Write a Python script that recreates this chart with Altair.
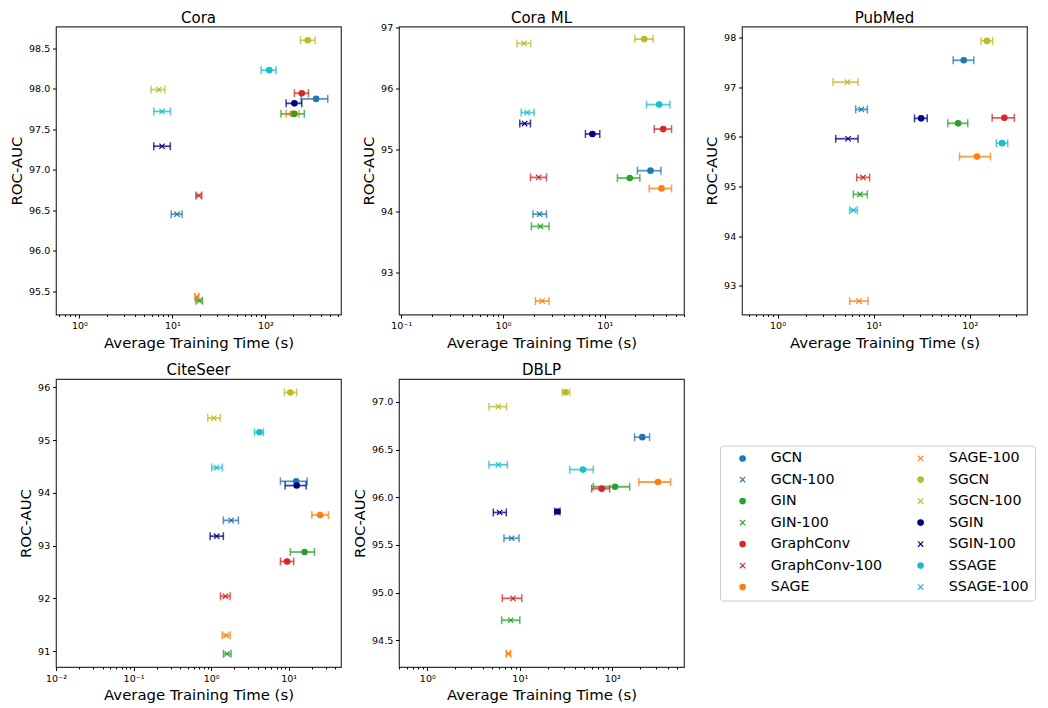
import math
import altair as alt
import pandas as pd

# ---------------- data ----------------
MODELS = ["GCN", "GCN-100", "SAGE", "SAGE-100", "GIN", "GIN-100", "GraphConv",
          "GraphConv-100", "SGCN", "SGCN-100", "SGIN", "SGIN-100", "SSAGE", "SSAGE-100"]

# legend order (legend fills column by column)
LEGEND_ORDER = ["GCN", "GCN-100", "GIN", "GIN-100", "GraphConv", "GraphConv-100", "SAGE",
                "SAGE-100", "SGCN", "SGCN-100", "SGIN", "SGIN-100", "SSAGE", "SSAGE-100"]

BASE_COLORS = {"GCN": "#1f77b4", "GIN": "#2ca02c", "GraphConv": "#d62728", "SAGE": "#ff7f0e",
               "SGCN": "#bcbd22", "SGIN": "#000080", "SSAGE": "#17becf"}

# Cora
CORA_T = [351, 11.2, 195, 18.3, 205, 19.5, 246, 19.2, 285, 7.13, 205, 7.74, 110, 7.74]
CORA_LO = [242, 9.7, 167, 17.5, 147, 17.9, 205, 17.9, 238, 5.9, 167, 6.3, 90, 6.3]
CORA_HI = [468, 12.7, 230, 19.2, 262, 21.1, 290, 20.7, 342, 8.3, 246, 9.5, 130, 9.5]
CORA_AUC = [97.875, 96.45, 97.69, 95.43, 97.69, 95.38, 97.945, 96.68, 98.60, 97.99, 97.82, 97.29, 98.23, 97.72]

# Cora ML
CORAML_T = [28.1, 2.29, 36.1, 2.42, 17.6, 2.33, 37.5, 2.24, 24.4, 1.61, 7.56, 1.63, 34.2, 1.73]
CORAML_LO = [20.9, 1.97, 27.3, 2.08, 13.3, 1.90, 30.6, 1.86, 19.7, 1.37, 6.45, 1.46, 25.7, 1.51]
CORAML_HI = [35.6, 2.67, 45.3, 2.83, 22.1, 2.83, 45.3, 2.67, 29.9, 1.87, 8.93, 1.86, 43.6, 2.02]
CORAML_AUC = [94.66, 93.95, 94.37, 92.53, 94.54, 93.75, 95.34, 94.55, 96.81, 96.74, 95.26, 95.43, 95.74, 95.61]

# PubMed
PUBMED_T = [86.6, 7.45, 119, 7.04, 75.7, 7.21, 229, 7.75, 151, 5.33, 31.2, 5.42, 217, 6.15]
PUBMED_LO = [67.2, 6.5, 78.2, 5.63, 59.1, 6.15, 171, 6.66, 131, 3.78, 26.6, 4.03, 189, 5.63]
PUBMED_HI = [110, 8.6, 164, 8.73, 95.3, 8.6, 291, 9.08, 173, 6.88, 36.1, 6.88, 248, 6.77]
PUBMED_AUC = [97.54, 96.55, 95.60, 92.69, 96.27, 94.84, 96.38, 95.18, 97.93, 97.10, 96.37, 95.96, 95.87, 94.52]

# CiteSeer
CITESEER_T = [12.5, 1.81, 25.4, 1.56, 16.0, 1.61, 9.55, 1.53, 10.5, 1.08, 12.7, 1.18, 4.2, 1.18]
CITESEER_LO = [7.83, 1.44, 19.9, 1.39, 10.5, 1.44, 7.83, 1.32, 8.82, 0.906, 9.0, 0.97, 3.62, 1.02]
CITESEER_HI = [17.3, 2.25, 32.6, 1.76, 21.5, 1.81, 11.6, 1.76, 12.7, 1.31, 16.8, 1.44, 4.73, 1.39]
CITESEER_AUC = [94.22, 93.48, 93.58, 91.30, 92.88, 90.95, 92.70, 92.04, 95.905, 95.42, 94.14, 93.18, 95.15, 94.48]

# DBLP
DBLP_T = [211, 8.16, 312, 7.51, 107, 7.96, 76.7, 8.44, 31.3, 5.86, 25.5, 6.05, 48.2, 5.86]
DBLP_LO = [174, 6.74, 194, 7.14, 62.3, 6.36, 59.8, 6.47, 28.8, 4.64, 23.8, 5.17, 34.6, 4.64]
DBLP_HI = [253, 9.8, 427, 7.96, 154, 10.0, 93.6, 10.5, 34.6, 7.2, 27.2, 7.14, 62.3, 7.33]
DBLP_AUC = [96.63, 95.57, 96.16, 94.36, 96.11, 94.71, 96.09, 94.94, 97.10, 96.95, 95.85, 95.84, 96.29, 96.34]

# ---------------- styling helpers ----------------
FONT = "DejaVu Sans"
PW, PH = 285, 288


def x_marker_path(arm=1.15, half=0.17):
    pts = [(half, arm), (half, half), (arm, half), (arm, -half), (half, -half), (half, -arm),
           (-half, -arm), (-half, -half), (-arm, -half), (-arm, half), (-half, half), (-half, arm)]
    rot = [((x - y) / math.sqrt(2), (x + y) / math.sqrt(2)) for x, y in pts]
    return "M" + "L".join(f"{x:.3f},{y:.3f}" for x, y in rot) + "Z"


X_PATH = x_marker_path()


def base_of(m):
    return m.replace("-100", "")


COLOR_RANGE = [BASE_COLORS[base_of(m)] for m in LEGEND_ORDER]
SHAPE_RANGE = [X_PATH if m.endswith("-100") else "circle" for m in LEGEND_ORDER]
cscale = alt.Scale(domain=LEGEND_ORDER, range=COLOR_RANGE)
sscale = alt.Scale(domain=LEGEND_ORDER, range=SHAPE_RANGE)

E = "round(log(datum.value)/LN10)"
IS_MAJOR = f"abs(log(datum.value)/LN10 - {E}) < 0.001"
LABEL_EXPR = (f"{IS_MAJOR} ? ({E} == -2 ? '10⁻²' : {E} == -1 ? '10⁻¹' : {E} == 0 ? '10⁰' : "
              f"{E} == 1 ? '10¹' : {E} == 2 ? '10²' : '10³') : ''")

LEG = alt.Legend(title=None, orient="none", legendX=664, legendY=419, columns=2,
                 columnPadding=21, rowPadding=6.5, labelFontSize=14.2, labelFont=FONT,
                 labelColor="black", labelOffset=21, symbolOffset=10, padding=5.5,
                 strokeColor="#cccccc", fillColor="white", cornerRadius=3,
                 symbolSize=44, symbolStrokeWidth=0, symbolOpacity=1)


def panel(name, t, lo, hi, auc, xdom, ydom, yvals, yfmt):
    df = pd.DataFrame({"model": MODELS, "t": t, "lo": lo, "hi": hi, "auc": auc})
    df["hex"] = [BASE_COLORS[base_of(m)] for m in MODELS]
    xvals = []
    for n in range(-3, 4):
        for k in range(1, 10):
            v = k * 10.0 ** n
            if xdom[0] <= v <= xdom[1]:
                xvals.append(round(v, 6))
    xs = alt.Scale(type="log", domain=xdom, nice=False)
    ys = alt.Scale(domain=ydom, nice=False, zero=False)
    xaxis = alt.Axis(title="Average Training Time (s)", values=xvals, labelExpr=LABEL_EXPR,
                     tickSize={"condition": {"test": IS_MAJOR, "value": 3.5}, "value": 2},
                     labelPadding=2.8, titlePadding=5, labelFlush=False, labelOverlap=False)
    yaxis = alt.Axis(title="ROC-AUC", values=yvals, format=yfmt, tickSize=3.5,
                     labelPadding=2.8, titlePadding=4, labelFlush=False)
    base = alt.Chart(df)
    col = alt.Color("hex:N", scale=None)
    X = lambda f: alt.X(f, scale=xs, axis=xaxis)
    Y = alt.Y("auc:Q", scale=ys, axis=yaxis)
    rule = base.mark_rule(strokeWidth=1.8, opacity=0.75).encode(
        x=X("lo:Q"), x2="hi:Q", y=Y, color=col)
    cap_lo = base.mark_tick(orient="vertical", size=8, thickness=1.5, opacity=0.75).encode(
        x=X("lo:Q"), y=Y, color=col)
    cap_hi = base.mark_tick(orient="vertical", size=8, thickness=1.5, opacity=0.75).encode(
        x=X("hi:Q"), y=Y, color=col)
    pts = base.mark_point(filled=True, size=44, opacity=1).encode(
        x=X("t:Q"), y=Y,
        color=alt.Color("model:N", scale=cscale, legend=LEG),
        shape=alt.Shape("model:N", scale=sscale, legend=LEG))
    ttl = alt.Chart(pd.DataFrame({"name": [name]})).mark_text(
        font=FONT, fontSize=15, color="black", align="center", baseline="middle"
    ).encode(text="name:N", x=alt.value(PW / 2), y=alt.value(-9))
    return alt.layer(rule, cap_lo, cap_hi, pts, ttl).properties(width=PW, height=PH)


cora = panel("Cora", CORA_T, CORA_LO, CORA_HI, CORA_AUC, [0.56, 650], [95.21, 98.77],
             [95.5, 96.0, 96.5, 97.0, 97.5, 98.0, 98.5], ".1f")
coraml = panel("Cora ML", CORAML_T, CORAML_LO, CORAML_HI, CORAML_AUC, [0.095, 60], [92.31, 97.016],
               [93, 94, 95, 96, 97], ".0f")
pubmed = panel("PubMed", PUBMED_T, PUBMED_LO, PUBMED_HI, PUBMED_AUC, [0.427, 394], [92.42, 98.22],
               [93, 94, 95, 96, 97, 98], ".0f")
citeseer = panel("CiteSeer", CITESEER_T, CITESEER_LO, CITESEER_HI, CITESEER_AUC, [0.01, 47.3],
                 [90.70, 96.16], [91, 92, 93, 94, 95, 96], ".0f")
dblp = panel("DBLP", DBLP_T, DBLP_LO, DBLP_HI, DBLP_AUC, [0.494, 596], [94.22, 97.24],
             [94.5, 95.0, 95.5, 96.0, 96.5, 97.0], ".1f")

chart = alt.concat(cora, coraml, pubmed, citeseer, dblp, columns=3,
                   spacing=alt.RowColnumber(row=64.5, column=58)).properties(
    bounds="flush", padding={"left": 0, "top": 1.5, "right": 0, "bottom": 0}
).configure(font=FONT).configure_view(
    stroke="#333333", strokeWidth=1.2
).configure_axis(
    grid=False, domain=False, tickColor="black", tickWidth=1, labelColor="black",
    titleColor="black", labelFontSize=9.5, titleFontSize=14.9, titleFontWeight="normal",
    labelFont=FONT, titleFont=FONT
).configure_point(opacity=1).configure_legend(symbolOpacity=1)

chart.save("out.html", embed_options={"renderer": "svg", "actions": False})
